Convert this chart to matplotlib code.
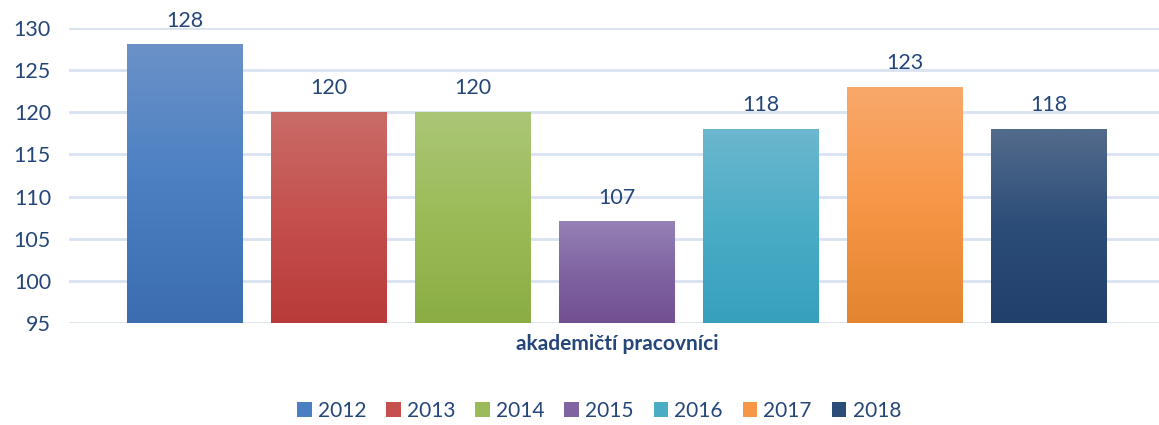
import matplotlib
matplotlib.use("Agg")
import matplotlib.pyplot as plt
import numpy as np
from matplotlib.patches import Patch
from matplotlib.colors import to_rgb

years = ["2012", "2013", "2014", "2015", "2016", "2017", "2018"]
values = [128, 120, 120, 107, 118, 123, 118]
category = "akademičtí pracovníci"
yticks = [95, 100, 105, 110, 115, 120, 125, 130]

top_colors = ["#6b91c8", "#c96c68", "#abc676", "#9581b5", "#6bb7ce", "#f9a86b", "#536b8c"]
mid_colors = ["#4a80c2", "#c5504d", "#9bbb58", "#8064a2", "#4bacc6", "#f79646", "#2c4d78"]
bot_colors = ["#3b6daf", "#b83b39", "#8bad44", "#724f92", "#37a0bd", "#e3852f", "#21406c"]

text_color = "#25467a"
plt.rcParams['font.family'] = ['Lato', 'DejaVu Sans']

W, H = 1159, 425
fig = plt.figure(figsize=(W / 100, H / 100), dpi=100)
left_px, right_px, top_px, bot_px = 69, 1159, 28, 323
ax = fig.add_axes([left_px / W, 1 - bot_px / H, (right_px - left_px) / W, (bot_px - top_px) / H])

x = np.arange(len(values))
width = 116 / 144

for yt in yticks:
    ax.axhline(yt, color="#d9e2f1", lw=2, zorder=0)

for i, v in enumerate(values):
    x0, x1 = x[i] - width / 2, x[i] + width / 2
    t, m, b = (np.array(to_rgb(c)) for c in (top_colors[i], mid_colors[i], bot_colors[i]))
    n = 100
    s = np.linspace(0, 1, n)[:, None]
    grad = np.where(s < 0.5, t + (m - t) * (s / 0.5), m + (b - m) * ((s - 0.5) / 0.5))
    img = grad[:, None, :]
    ax.imshow(img, extent=(x0, x1, 95, v), origin="upper", aspect="auto", zorder=2, interpolation="bilinear")
    ax.text(x[i], v + 1.7, str(v), ha="center", va="bottom", fontsize=15.5, color=text_color)

ax.set_xlim(-(185 - 69) / 144, 6 + (right_px - 1049) / 144)
ax.set_ylim(95, 130)
ax.set_yticks(yticks)
ax.set_yticklabels([str(t) for t in yticks], fontsize=15.5, color=text_color)
ax.tick_params(axis="y", length=0, pad=13)
ax.set_xticks([])
for sp in ax.spines.values():
    sp.set_visible(False)

fig.text(617 / W, 1 - 344 / H, category, ha="center", va="center", fontsize=15,
         fontweight="bold", color=text_color)

handles = [Patch(facecolor=mid_colors[i], edgecolor="none", label=years[i]) for i in range(len(years))]
leg = fig.legend(handles=handles, loc="center", bbox_to_anchor=(599 / W, 1 - 411 / H), ncol=7,
                 frameon=False, fontsize=15, handlelength=0.7, handleheight=0.7,
                 handletextpad=0.3, columnspacing=0.95)
for txt in leg.get_texts():
    txt.set_color(text_color)

fig.savefig("out.png", dpi=100)
